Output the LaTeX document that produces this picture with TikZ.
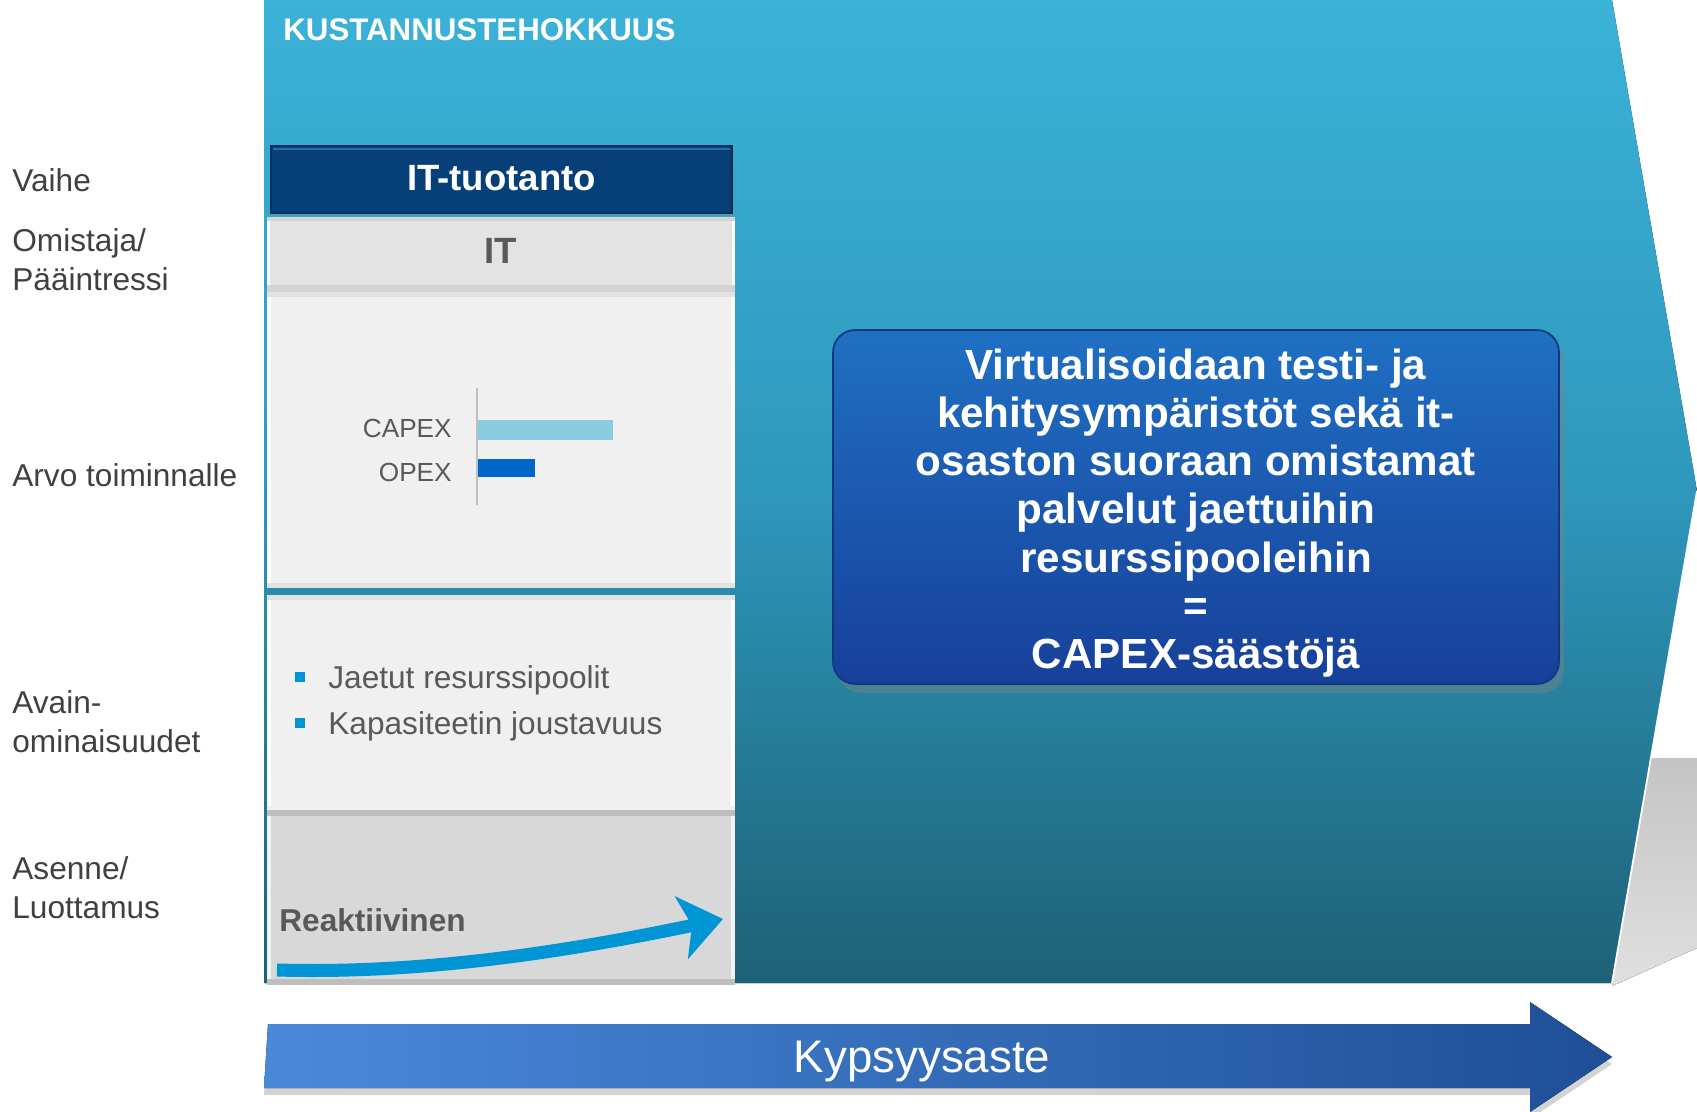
\documentclass[tikz,border=0pt]{standalone}
\usepackage{fontspec}
\setmainfont{Liberation Sans}
\usetikzlibrary{arrows.meta,shadows,calc}
\definecolor{chevTop}{HTML}{3BB2D8}
\definecolor{chevMid}{HTML}{2E98BC}
\definecolor{chevBot}{HTML}{1D6176}
\definecolor{navy}{HTML}{073F78}
\definecolor{navyHi}{HTML}{2F6BAA}
\definecolor{navyEdge}{HTML}{052F5C}
\definecolor{itFill}{HTML}{E3E3E3}
\definecolor{itEdge}{HTML}{D3D3D3}
\definecolor{panelFill}{HTML}{F0F0F0}
\definecolor{panelEdge}{HTML}{E2E2E2}
\definecolor{attFill}{HTML}{D8D8D8}
\definecolor{attEdge}{HTML}{BEBEBE}
\definecolor{boxTop}{HTML}{1F70C3}
\definecolor{boxBot}{HTML}{17409A}
\definecolor{boxEdge}{HTML}{14387F}
\definecolor{capexC}{HTML}{89CCE0}
\definecolor{opexC}{HTML}{0066CC}
\definecolor{accent}{HTML}{0096D6}
\definecolor{arrL}{HTML}{4A89DA}
\definecolor{arrR}{HTML}{1E4F97}
\definecolor{lblGray}{HTML}{404040}
\definecolor{colText}{HTML}{595959}
\definecolor{shadowTop}{HTML}{C4C4C4}
\definecolor{shadowBot}{HTML}{E0E0E0}
\begin{document}
\begin{tikzpicture}[x=0.02cm,y=-0.02cm,
  lbl/.style={anchor=west,inner sep=0pt,align=left,text=lblGray,font=\fontsize{18}{22.1}\selectfont},
  panel/.style={inner sep=0pt,outer sep=0pt,minimum width=9.36cm},
  coltxt/.style={text=colText,inner sep=0pt},
  bullet/.style={fill=accent},
  boxtext/.style={text=white,align=center,font=\bfseries\fontsize{24}{27.4}\selectfont,inner sep=0pt}
]
\useasboundingbox (0,0) rectangle (1697,1112);

% shadow to the right of the chevron
\fill[top color=shadowTop,bottom color=shadowBot] (1650,758) -- (1697,758) -- (1697,948) -- (1612,986) -- cycle;

% big chevron background
\fill[top color=chevTop,bottom color=chevBot,middle color=chevMid] (264,0) -- (1612,0) -- (1697,491) -- (1612,983) -- (264,983) -- cycle;
\draw[white,line width=1pt] (1697,491) -- (1612,983);

\node[anchor=base west,inner sep=0pt,text=white,font=\bfseries\fontsize{17.8}{20}\selectfont] (title) at (283,40) {KUSTANNUSTEHOKKUUS};

% left labels
\node[lbl] (l1) at (12,180) {Vaihe};
\node[lbl] (l2) at (12,259.5) {Omistaja/\\Pääintressi};
\node[lbl] (l3) at (12,475) {Arvo toiminnalle};
\node[lbl] (l4) at (12,721.5) {Avain-\\ominaisuudet};
\node[lbl] (l5) at (12,887.5) {Asenne/\\Luottamus};

% header
\node[panel,minimum width=9.22cm,minimum height=1.34cm,fill=navy,draw=navyEdge,line width=0.8pt,
      drop shadow={opacity=0.35,shadow xshift=1pt,shadow yshift=-1.5pt}] (hdr) at (501.5,179.5) {};
\draw[navyHi,line width=1.6pt] (273,149) -- (730,149);
\node[text=white,inner sep=0pt,font=\bfseries\fontsize{20.8}{24}\selectfont] (hdrt) at (501.5,178.5) {IT-tuotanto};

% IT owner box
\node[panel,minimum height=1.5cm,fill=itFill] (it) at (501,254.5) {};
\fill[itEdge] (267,217) rectangle (735,221);
\fill[itEdge] (267,285) rectangle (735,292);
\fill[white] (267,221) rectangle (270,285);
\fill[white] (732,221) rectangle (735,285);
\node[coltxt,font=\bfseries\fontsize{20.8}{24}\selectfont] (itt) at (501,251) {IT};

% value box
\node[panel,minimum height=5.92cm,fill=panelFill] (arvo) at (501,440) {};
\fill[panelEdge] (267,292) rectangle (735,297);
\fill[panelEdge] (267,583) rectangle (735,588);
\fill[white] (267,297) rectangle (271,583);
\fill[white] (731,297) rectangle (735,583);
\draw[black!25,line width=1.1pt] (477,388) -- (477,505);
\fill[capexC] (478,420) rectangle (613,440);
\fill[opexC] (478,459) rectangle (535,477);
\node[coltxt,anchor=east,font=\fontsize{14.9}{17}\selectfont] (capex) at (452,428) {CAPEX};
\node[coltxt,anchor=east,font=\fontsize{14.9}{17}\selectfont] (opex) at (452,472) {OPEX};

% key features box
\node[panel,minimum height=4.3cm,fill=panelFill] (avain) at (501,702.5) {};
\fill[panelEdge] (267,595) rectangle (735,600);
\fill[white] (267,600) rectangle (271,806);
\fill[white] (731,600) rectangle (735,806);
\fill[bullet] (295,672) rectangle (305,682);
\fill[bullet] (295,718) rectangle (305,728);
\node[coltxt,anchor=base west,font=\fontsize{18}{21}\selectfont] (b1) at (328,688) {Jaetut resurssipoolit};
\node[coltxt,anchor=base west,font=\fontsize{18}{21}\selectfont] (b2) at (328,734) {Kapasiteetin joustavuus};

% attitude box
\node[panel,minimum height=3.46cm,fill=attFill] (asenne) at (501,898.5) {};
\fill[attEdge] (267,810) rectangle (735,816);
\fill[attEdge] (267,979) rectangle (735,985);
\fill[white!70!attFill] (267,816) rectangle (271,979);
\fill[white!70!attFill] (731,816) rectangle (735,979);
\node[coltxt,anchor=base west,font=\bfseries\fontsize{18}{21}\selectfont] (reak) at (279,931) {Reaktiivinen};
\coordinate (cs) at (277,970);
\coordinate (ce) at (723,919);
\draw[accent,line width=7.4pt,-{Stealth[length=24pt,width=36pt,inset=6pt]}] (cs) .. controls (420,974) and (560,953) .. (ce);

% big statement box
\node[panel,minimum width=14.52cm,minimum height=7.08cm,rounded corners=0.44cm,
      top color=boxTop,bottom color=boxBot,draw=boxEdge,line width=1pt,
      drop shadow={opacity=0.4,shadow xshift=3pt,shadow yshift=-5pt}] (box) at (1196,507) {};
\node[boxtext] (boxt) at (1196,513) {Virtualisoidaan testi- ja\\kehitysympäristöt sekä it-\\osaston suoraan omistamat\\palvelut jaettuihin\\resurssipooleihin\\=\\CAPEX-säästöjä};

% bottom maturity arrow
\fill[left color=arrL,right color=arrR,drop shadow={opacity=0.35,shadow xshift=0pt,shadow yshift=-4pt}]
  (268,1024) -- (1530,1024) -- (1530,1002) -- (1612,1057) -- (1530,1112) -- (1530,1088) -- (264,1088) -- cycle;
\node[text=white,inner sep=0pt,font=\fontsize{26}{30}\selectfont] (kyp) at (922,1062) {Kypsyysaste};
\end{tikzpicture}
\end{document}
